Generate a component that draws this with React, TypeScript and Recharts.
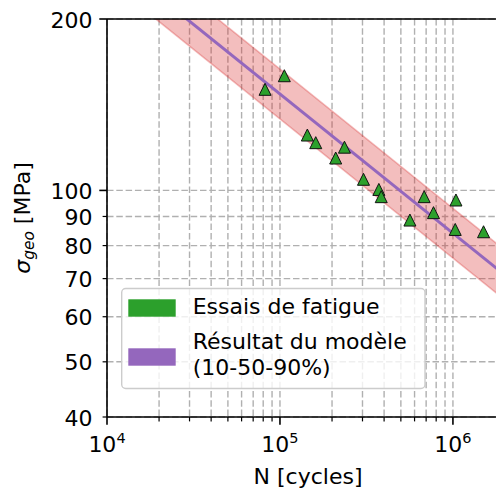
import React from 'react';
import { ComposedChart, XAxis, YAxis, CartesianGrid, Area, Line, Scatter, ReferenceLine } from 'recharts';

// Fatigue tests (cycles, stress MPa)
const testCycles = [82000, 106000, 144000, 161000, 236000, 210000, 304000, 373000, 385000, 682000, 1041000, 772000, 564000, 1031000, 1503000];
const testStress = [150.5, 159, 125.1, 121.3, 119.1, 114.0, 104.6, 100.4, 97.5, 97.5, 96.2, 91.4, 88.7, 85.4, 84.6];

// Model: 10 / 50 / 90 % curves
const modelCycles = [10000, 2000000];
const modelMedian = [259.3, 71.0];
const modelLow = [234.4, 64.2];
const modelHigh = [286.8, 78.5];

const xTicks = [10000, 20000, 30000, 40000, 50000, 60000, 70000, 80000, 90000, 100000, 200000, 300000, 400000, 500000, 600000, 700000, 800000, 900000, 1000000, 2000000];
const yTicks = [40, 50, 60, 70, 80, 90, 100, 200];
const yMajor = [100, 200];

const testData = testCycles.map((n, i) => ({ n, s: testStress[i] }));
const modelData = modelCycles.map((n, i) => ({ n, mid: modelMedian[i], band: [modelLow[i], modelHigh[i]] }));

const FONT = 'DejaVu Sans';
const FS = 22;

const XTick = (props: any) => {
  const { x, y, payload } = props;
  const v = payload.value;
  const lg = Math.log10(v);
  const exp = Math.round(lg);
  const major = Math.abs(lg - exp) < 1e-6;
  return (
    <g>
      <line x1={x} y1={y} x2={x} y2={y + (major ? 7.7 : 4.4)} stroke="#000" strokeWidth={major ? 1.6 : 1.2} />
      {major && (
        <text x={x} y={y + 34.5} textAnchor="middle" fontFamily={FONT} fontSize={FS} fill="#000">
          <tspan>10</tspan>
          <tspan dy={-9} fontSize={14.5}>{exp}</tspan>
        </text>
      )}
    </g>
  );
};

const YTick = (props: any) => {
  const { x, y, payload } = props;
  const v = payload.value;
  const major = yMajor.includes(v);
  return (
    <g>
      <line x1={x} y1={y} x2={x - (major ? 7.7 : 4.4)} y2={y} stroke="#000" strokeWidth={major ? 1.6 : 1.2} />
      <text x={92.5} y={y + 8.5} textAnchor="end" fontFamily={FONT} fontSize={FS} fill="#000">{v}</text>
    </g>
  );
};

const Triangle = (props: any) => {
  const { cx, cy } = props;
  const h = 6;
  return (
    <path
      d={`M${cx},${cy - h}L${cx + h},${cy + h}L${cx - h},${cy + h}Z`}
      fill="#2ca02c"
      stroke="#111"
      strokeWidth={1}
    />
  );
};

export default function App() {
  return (
    <div style={{ position: 'fixed', left: 0, top: 0, width: 496, height: 489, overflow: 'hidden', background: '#fff' }}>
      <ComposedChart width={505} height={489} data={modelData} margin={{ top: 19, right: 0, bottom: 0, left: 0 }}>
        <CartesianGrid stroke="#b0b0b0" strokeWidth={1.4} strokeDasharray="6.5 2.8" />
        <XAxis
          dataKey="n"
          type="number"
          scale="log"
          domain={[10000, 2000000]}
          allowDataOverflow
          ticks={xTicks}
          interval={0}
          height={72}
          tickSize={0}
          tickMargin={0}
          tickLine={false}
          axisLine={{ stroke: '#000', strokeWidth: 1.6 }}
          tick={<XTick />}
        />
        <YAxis
          type="number"
          scale="log"
          domain={[40, 200]}
          allowDataOverflow
          ticks={yTicks}
          interval={0}
          width={107}
          tickSize={0}
          tickMargin={0}
          tickLine={false}
          axisLine={{ stroke: '#000', strokeWidth: 1.6 }}
          tick={<YTick />}
        />
        <Area
          dataKey="band"
          type="linear"
          fill="#d62728"
          fillOpacity={0.3}
          stroke="#d62728"
          strokeOpacity={0.3}
          strokeWidth={1.6}
          isAnimationActive={false}
        />
        <Line dataKey="mid" type="linear" stroke="#9467bd" strokeWidth={3} dot={false} isAnimationActive={false} />
        <Scatter data={testData} dataKey="s" shape={<Triangle />} isAnimationActive={false} />
        <ReferenceLine y={200} stroke="#000" strokeWidth={1.6} />
      </ComposedChart>
      <svg width={496} height={489} style={{ position: 'absolute', left: 0, top: 0, pointerEvents: 'none' }}>
        <text x={308} y={483.5} textAnchor="middle" fontFamily={FONT} fontSize={FS} fill="#000">N [cycles]</text>
        <text transform="rotate(-90)" x={-218} y={30} textAnchor="middle" fontFamily={FONT} fontSize={FS} fill="#000">
          <tspan fontStyle="italic">σ</tspan>
          <tspan fontStyle="italic" fontSize={15.4} dy={4}>geo</tspan>
          <tspan dy={-4}> [MPa]</tspan>
        </text>
        <rect x={121.7} y={288.5} width={303.3} height={100} rx={4} fill="#fff" fillOpacity={0.8} stroke="#cccccc" strokeWidth={1.4} />
        <rect x={128.3} y={299.3} width={47.4} height={17.4} fill="#2ca02c" />
        <rect x={128.3} y={348.3} width={47.4} height={17.4} fill="#9467bd" />
        <text x={192.7} y={314} fontFamily={FONT} fontSize={FS} fill="#000">Essais de fatigue</text>
        <text x={192.7} y={349} fontFamily={FONT} fontSize={FS} fill="#000">Résultat du modèle</text>
        <text x={192.7} y={375} fontFamily={FONT} fontSize={FS} fill="#000">(10-50-90%)</text>
      </svg>
    </div>
  );
}
